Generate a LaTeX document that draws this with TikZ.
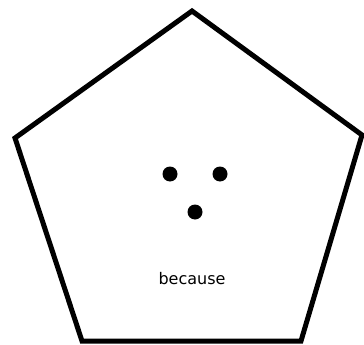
\documentclass[tikz,border=0pt]{standalone}
\usepackage{fontspec}
\setsansfont{DejaVu Sans}
\usetikzlibrary{positioning}
\tikzset{
  pent-edge/.style={draw,black,line width=5pt,line join=miter},
  dot/.style={circle,fill=black,minimum size=15pt,inner sep=0pt},
  word/.style={font=\sffamily\fontsize{16}{19}\selectfont,text=black},
}

\begin{document}
\begin{tikzpicture}[x=1pt,y=-1pt]

  \useasboundingbox (0,0) rectangle (364,345);

  % corners of the pentagon
  \coordinate (top)  at (192, 11);
  \coordinate (rgt)  at (362, 135);
  \coordinate (brgt) at (301, 341);
  \coordinate (blft) at (82, 341);
  \coordinate (lft)  at (15, 138);
  \draw[pent-edge] (top) -- (rgt) -- (brgt) -- (blft) -- (lft) -- cycle;

  % because sign
  \node[dot] (d1) at (170, 174) {};
  \node[dot] (d2) at (220, 174) {};
  \node[dot] (d3) at (195, 212) {};
  \node[word] (lbl) at (192, 279) {because};

\end{tikzpicture}
\end{document}
